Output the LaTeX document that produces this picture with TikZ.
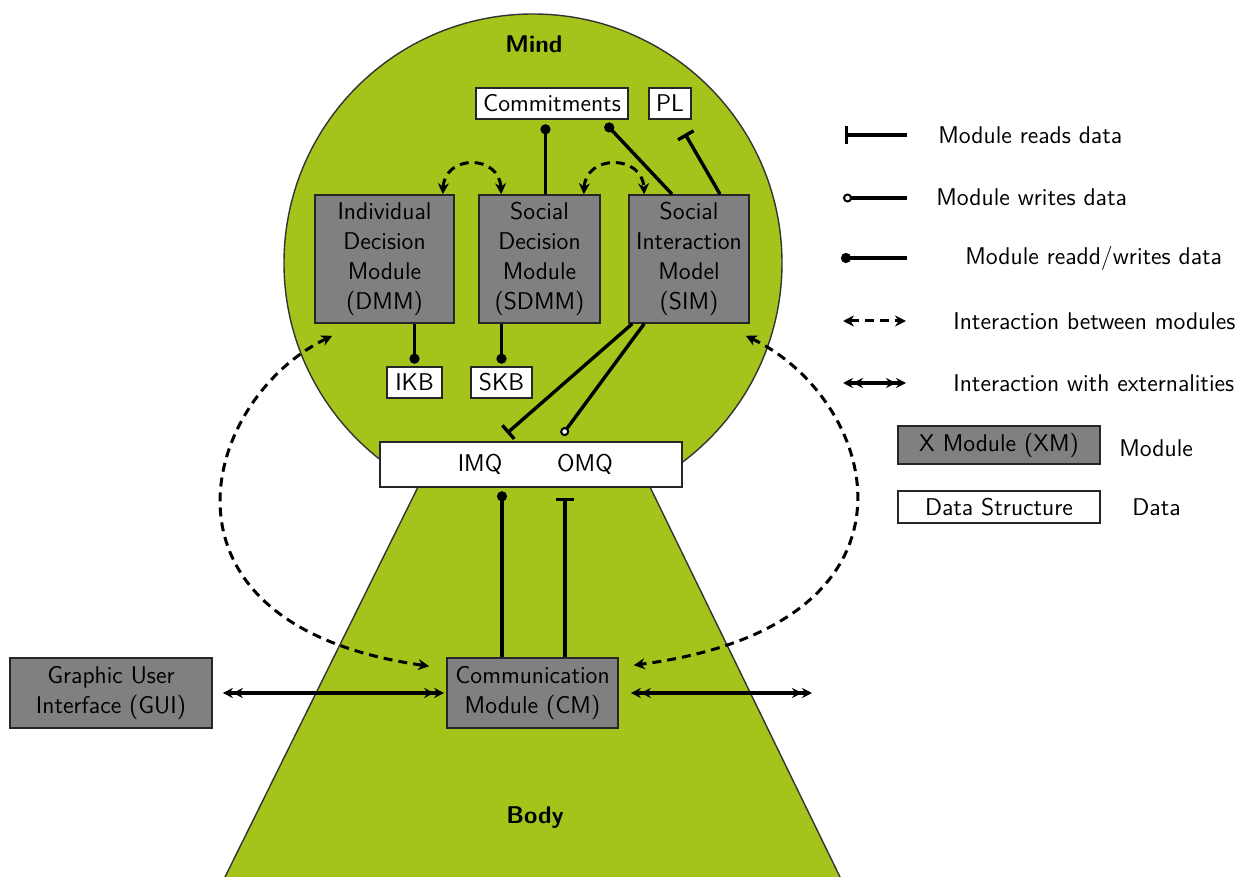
\documentclass[tikz,border=0pt]{standalone}
\usetikzlibrary{arrows.meta}
\definecolor{mindgreen}{RGB}{164,196,28}
\definecolor{modgray}{RGB}{128,128,128}
\begin{document}
\begin{tikzpicture}[x=0.5pt,y=-0.5pt,
  every node/.style={font=\sffamily\fontsize{12.1}{15}\selectfont, inner sep=0pt},
  module/.style={draw=black!85, line width=0.8pt, fill=modgray, align=center},
  datastruct/.style={draw=black!85, line width=0.8pt, fill=white, align=center},
  conn/.style={line width=1.7pt},
  reads/.style={conn, -{Bar[width=9pt]}},
  writes/.style={conn, -{Circle[open, length=4.5pt, width=4.5pt, fill=white, line width=1pt]}},
  readwrites/.style={conn, -{Circle[length=5pt, width=5pt]}},
  interact/.style={line width=1.5pt, dash pattern=on 4.5pt off 3pt,
    {Stealth[length=5.5pt,width=5.5pt]}-{Stealth[length=5.5pt,width=5.5pt]}},
  ext/.style={line width=1.7pt,
    {Stealth[length=5pt,width=5pt]Stealth[length=5pt,width=5pt]}-{Stealth[length=5pt,width=5pt]Stealth[length=5pt,width=5pt]}},
  title/.style={font=\sffamily\bfseries\fontsize{12.1}{15}\selectfont}
]
\useasboundingbox (0,0) rectangle (1239,877);
\fill[white] (0,0) rectangle (1239,877);

% Mind (circle) and Body (trapezoid)
\draw[fill=mindgreen, draw=black!80, line width=0.7pt] (533,263) circle[radius=124.5pt];
\fill[mindgreen] (418,487) -- (650,487) -- (840,877) -- (225,877) -- cycle;
\draw[black!80, line width=0.7pt] (418,487) -- (225,877);
\draw[black!80, line width=0.7pt] (650,487) -- (840,877);

\node[title] (mind) at (534,44) {Mind};
\node[title] (body) at (535,818) {Body};

% Data structures
\node[datastruct, minimum width=76pt, minimum height=15.5pt] (Commit) at (552,103.5) {Commitments};
\node[datastruct, minimum width=21pt, minimum height=15.5pt] (PL) at (670,103.5) {PL};
\node[datastruct, minimum width=27.5pt, minimum height=15.5pt] (IKB) at (414.5,382.5) {IKB};
\node[datastruct, minimum width=30.5pt, minimum height=15.5pt] (SKB) at (501.5,382.5) {SKB};
\node[datastruct, minimum width=151pt, minimum height=22.5pt] (Q) at (531,464.5) {};
\node (IMQ) at (480,464) {IMQ};
\node (OMQ) at (585,464) {OMQ};

% Modules
\node[module, minimum width=69.5pt, minimum height=64pt] (DMM) at (384.5,259) {Individual\\Decision\\Module\\(DMM)};
\node[module, minimum width=60.5pt, minimum height=64pt] (SDMM) at (539.5,259) {Social\\Decision\\Module\\(SDMM)};
\node[module, minimum width=60pt, minimum height=64pt] (SIM) at (689,259) {Social\\Interaction\\Model\\(SIM)};
\node[module, minimum width=85.5pt, minimum height=35pt] (CM) at (532.5,693) {Communication\\Module (CM)};
\node[module, minimum width=101pt, minimum height=35pt] (GUI) at (111,693) {Graphic User\\Interface (GUI)};

% Data access
\coordinate (sdtop) at ([xshift=3pt]SDMM.north);
\draw[readwrites, shorten >=2.25pt] (sdtop) -- (sdtop |- Commit.south);
\draw[readwrites] ([xshift=-8.5pt]SIM.north) -- ([xshift=-11.5pt,yshift=-2pt]Commit.south east);
\draw[reads] ([xshift=15.5pt]SIM.north) -- ([xshift=7.5pt,yshift=-7pt]PL.south);
\draw[readwrites, shorten >=1.25pt] (IKB.north |- DMM.south) -- (IKB.north);
\draw[readwrites, shorten >=1.25pt] (SKB.north |- SDMM.south) -- (SKB.north);
\draw[reads] ([xshift=2pt]SIM.south west) -- ([xshift=-12pt,yshift=4pt]Q.north);
\draw[writes] ([xshift=8pt]SIM.south west) -- ([xshift=15.5pt,yshift=3pt]Q.north);
\coordinate (cmA) at ([xshift=-15.25pt]CM.north);
\coordinate (cmB) at ([xshift=16.25pt]CM.north);
\draw[readwrites, shorten >=1.75pt] (cmA) -- (cmA |- Q.south);
\draw[reads, shorten >=5pt] (cmB) -- (cmB |- Q.south);

% Interaction between modules
\draw[interact] ([xshift=-6pt]DMM.north east) .. controls +(2,-40) and +(-2,-40) .. ([xshift=11.5pt]SDMM.north west);
\draw[interact] ([xshift=-8.5pt]SDMM.north east) .. controls +(2,-40) and +(-2,-40) .. ([xshift=8pt]SIM.north west);
\draw[interact] ([xshift=9pt,yshift=-6pt]DMM.south west) .. controls (200,400) and (138,625) .. ([xshift=-8.5pt,yshift=-4.5pt]CM.north west);
\draw[interact] ([xshift=-2pt,yshift=-6pt]SIM.south east) .. controls (880,400) and (942,625) .. ([xshift=7.5pt,yshift=-4pt]CM.north east);

% Interaction with externalities
\coordinate (extR) at (812,693);
\draw[ext] ([xshift=5pt]GUI.east) -- ([xshift=-1pt]CM.west);
\draw[ext] ([xshift=6pt]CM.east) -- (extR);

% Legend
\coordinate (lgA1) at (845,135); \coordinate (lgA2) at (907,135);
\coordinate (lgB1) at (843,198); \coordinate (lgB2) at (907,198);
\coordinate (lgC1) at (841,258); \coordinate (lgC2) at (907,258);
\coordinate (lgD1) at (843,321); \coordinate (lgD2) at (906,321);
\coordinate (lgE1) at (843,383); \coordinate (lgE2) at (906,383);
\draw[reads] (lgA2) -- (lgA1);
\draw[writes] (lgB2) -- (lgB1);
\draw[readwrites] (lgC2) -- (lgC1);
\draw[interact] (lgD1) -- (lgD2);
\draw[ext] (lgE1) -- (lgE2);
\node[anchor=west] (lgtA) at (938,135) {Module reads data};
\node[anchor=west] (lgtB) at (936,197) {Module writes data};
\node[anchor=west] (lgtC) at (965,258) {Module readd/writes data};
\node[anchor=west] (lgtD) at (953,321) {Interaction between modules};
\node[anchor=west] (lgtE) at (953,383) {Interaction with externalities};
\node[module, minimum width=101pt, minimum height=19pt] (lgXM) at (999,445) {X Module (XM)};
\node[datastruct, minimum width=101pt, minimum height=16pt] (lgDS) at (999,507) {Data Structure};
\node[anchor=west] (lgtM) at (1119,448) {Module};
\node[anchor=west] (lgtDS) at (1132,507) {Data};
\end{tikzpicture}
\end{document}
